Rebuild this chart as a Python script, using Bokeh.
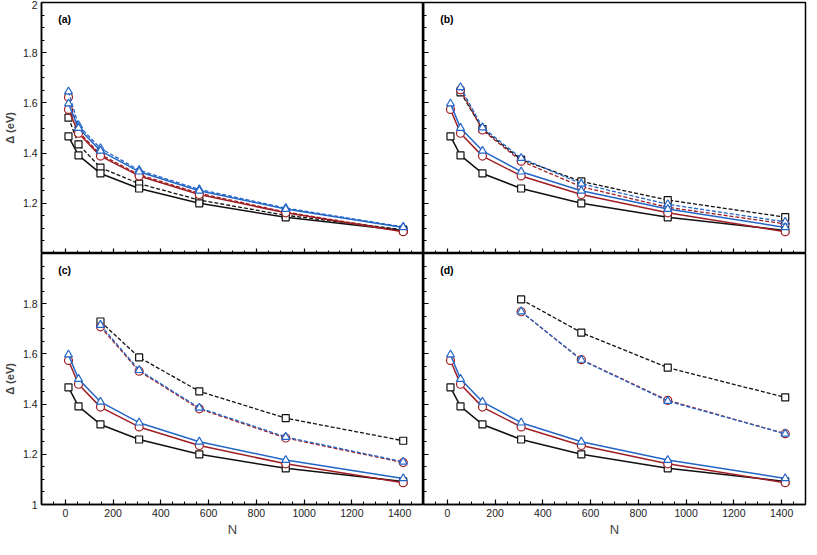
from bokeh.plotting import figure
from bokeh.layouts import gridplot
from bokeh.models import (FixedTicker, CustomJSTickFormatter, Range1d, Label,
                          CustomLabelingPolicy)
from bokeh.embed import file_html
from bokeh.resources import INLINE

# ---- data ----
N = [13, 55, 147, 309, 561, 923, 1415]
base_black = [1.467, 1.391, 1.319, 1.259, 1.200, 1.144, 1.092]
base_red = [1.574, 1.479, 1.388, 1.309, 1.235, 1.162, 1.087]
base_blue = [1.597, 1.500, 1.409, 1.326, 1.250, 1.177, 1.104]

a_N = [13, 55, 147, 309, 561, 923, 1415]
a_black = [1.541, 1.435, 1.342, 1.278, 1.213, 1.152, 1.095]
a_red = [1.623, 1.486, 1.394, 1.314, 1.240, 1.165, 1.089]
a_blue = [1.645, 1.510, 1.419, 1.332, 1.255, 1.181, 1.106]

b_N = [55, 147, 309, 561, 923, 1415]
b_black = [1.642, 1.496, 1.374, 1.287, 1.213, 1.145]
b_red = [1.652, 1.492, 1.368, 1.266, 1.184, 1.118]
b_blue = [1.662, 1.502, 1.380, 1.278, 1.196, 1.126]

c_N = [147, 309, 561, 923, 1415]
c_black = [1.729, 1.586, 1.451, 1.344, 1.254]
c_red = [1.708, 1.531, 1.381, 1.265, 1.167]
c_blue = [1.715, 1.535, 1.385, 1.269, 1.170]

d_N = [309, 561, 923, 1415]
d_black = [1.817, 1.685, 1.545, 1.427]
d_red = [1.768, 1.577, 1.415, 1.282]
d_blue = [1.769, 1.576, 1.412, 1.282]

x_major = [0, 200, 400, 600, 800, 1000, 1200, 1400]
x_minor = list(range(-100, 1501, 50))
y_major_top = [1.2, 1.4, 1.6, 1.8, 2.0]
y_major_bottom = [1.0, 1.2, 1.4, 1.6, 1.8]
y_minor = [round(1 + 0.05 * i, 2) for i in range(21)]

BLACK = "#111111"
RED = "#a01e23"
BLUE = "#2366c8"
FONT = "Liberation Sans"
FW = 382
FH = 251

NO_LABELS = "for (const i of Array.from(indices)) { indices.unset(i) }\nreturn indices"


def style_axis(ax, show_labels):
    ax.axis_line_color = "black"
    ax.axis_line_width = 1.5
    ax.major_tick_in = 5
    ax.major_tick_out = 0
    ax.minor_tick_in = 3
    ax.minor_tick_out = 0
    ax.major_tick_line_color = "black"
    ax.minor_tick_line_color = "black"
    ax.major_tick_line_width = 1.2
    ax.minor_tick_line_width = 1
    ax.major_label_text_font = FONT
    ax.major_label_text_color = "#222222"
    if show_labels:
        ax.major_label_text_font_size = "10.5px"
        ax.major_label_standoff = 4
    else:
        ax.major_label_text_font_size = "0px"
        ax.major_label_standoff = 0
        ax.major_label_policy = CustomLabelingPolicy(code=NO_LABELS)
        ax.axis_label = None


def make_panel(tag, dN, dblack, dred, dblue, left, bottom):
    p = figure(frame_width=FW, frame_height=FH,
               x_range=Range1d(-100, 1500), y_range=Range1d(1, 2),
               output_backend="svg", toolbar_location=None,
               min_border=0)
    p.min_border_top = 2 if not bottom else 0
    if not left:
        p.min_border_right = 3
    p.grid.visible = False
    p.outline_line_color = "black"
    p.outline_line_width = 1.5
    p.background_fill_color = "white"
    p.border_fill_color = "white"

    fmt = CustomJSTickFormatter(code="return (Math.round(tick*10)/10).toString()")
    p.xaxis.ticker = FixedTicker(ticks=x_major, minor_ticks=x_minor)
    p.yaxis.ticker = FixedTicker(ticks=(y_major_bottom if bottom else y_major_top),
                                 minor_ticks=y_minor)
    p.yaxis.formatter = fmt
    style_axis(p.xaxis[0], bottom)
    style_axis(p.yaxis[0], left)
    if bottom:
        p.xaxis.axis_label = "N"
        p.xaxis.axis_label_text_font = FONT
        p.xaxis.axis_label_text_font_style = "normal"
        p.xaxis.axis_label_text_font_size = "13px"
        p.xaxis.axis_label_standoff = 2
    if left:
        p.yaxis.axis_label = "Δ (eV)"
        p.yaxis.axis_label_text_font = FONT
        p.yaxis.axis_label_text_font_style = "bold"
        p.yaxis.axis_label_text_font_size = "11px"
        p.yaxis.axis_label_standoff = 4

    # dashed series
    for ys, col, mk, sz in [(dblack, BLACK, "square", 7),
                            (dred, RED, "circle", 8),
                            (dblue, BLUE, "triangle", 8)]:
        p.line(dN, ys, line_color=col, line_width=1.3, line_dash="4 2")
        p.scatter(dN, ys, marker=mk, size=sz, fill_color="white",
                  line_color=col, line_width=1.2)
    # solid series
    for ys, col, mk, sz in [(base_black, BLACK, "square", 7),
                            (base_red, RED, "circle", 8),
                            (base_blue, BLUE, "triangle", 8)]:
        p.line(N, ys, line_color=col, line_width=1.5)
        p.scatter(N, ys, marker=mk, size=sz, fill_color="white",
                  line_color=col, line_width=1.2)

    p.add_layout(Label(x=-30, y=1.935, text=tag, text_font=FONT,
                       text_font_size="10.5px", text_font_style="bold",
                       text_baseline="middle", text_color="black"))
    return p


pa = make_panel("(a)", a_N, a_black, a_red, a_blue, left=True, bottom=False)
pb = make_panel("(b)", b_N, b_black, b_red, b_blue, left=False, bottom=False)
pc = make_panel("(c)", c_N, c_black, c_red, c_blue, left=True, bottom=True)
pd = make_panel("(d)", d_N, d_black, d_red, d_blue, left=False, bottom=True)

grid = gridplot([[pa, pb], [pc, pd]], toolbar_location=None)

open("out.html", "w").write(file_html(grid, INLINE))
